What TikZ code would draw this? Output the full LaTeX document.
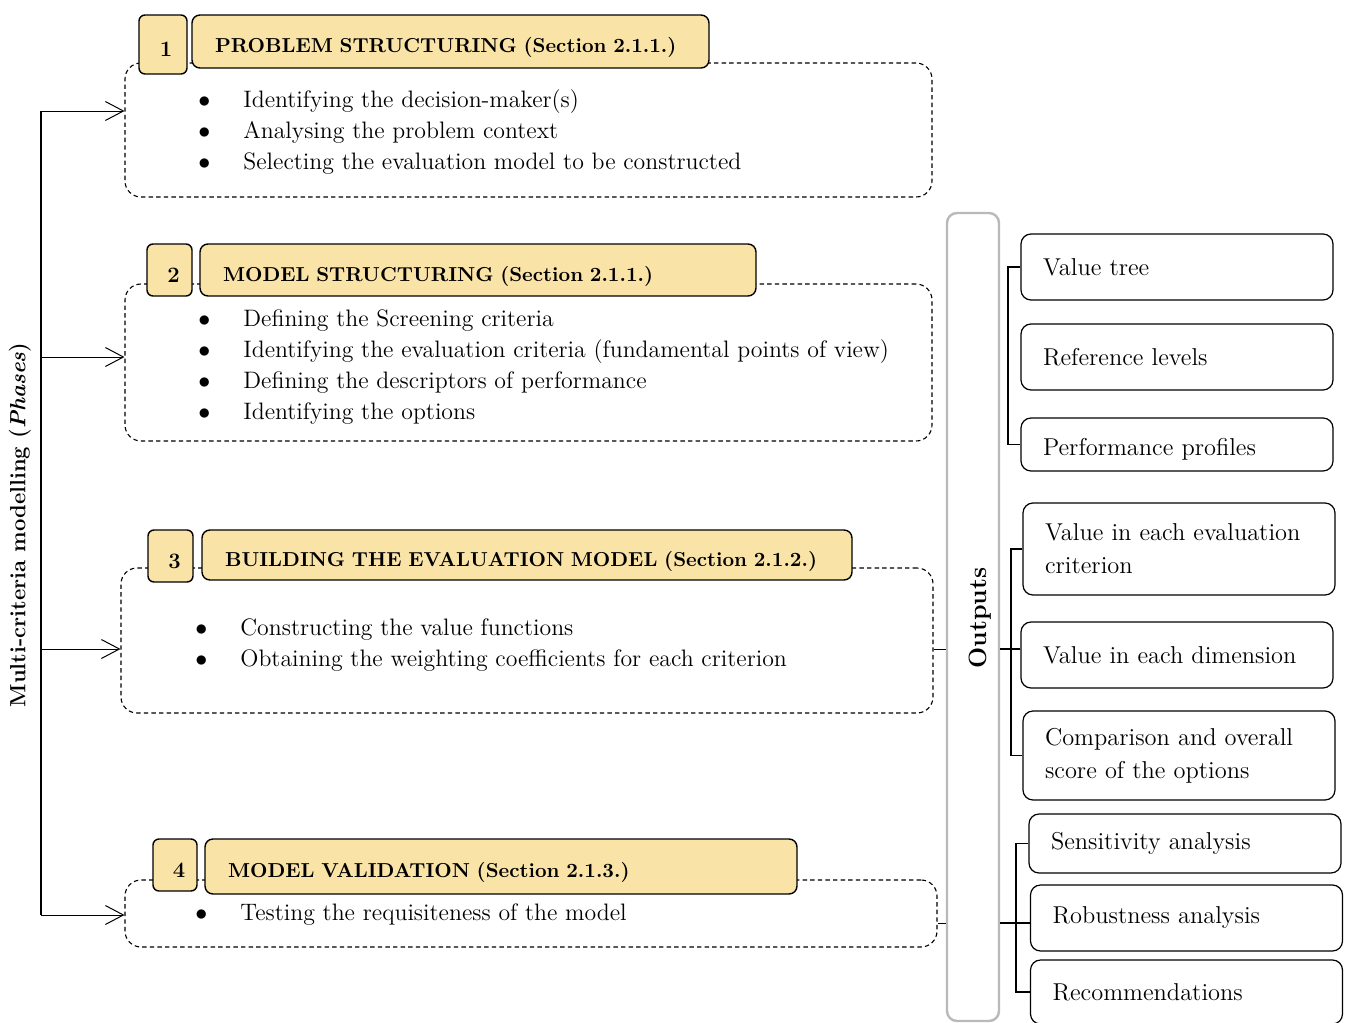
\documentclass[tikz,border=0pt]{standalone}
\usepackage{tikz}
\usetikzlibrary{arrows.meta}

\definecolor{titlefill}{RGB}{250,227,167}
\definecolor{outgray}{RGB}{185,185,185}

\tikzset{
  phasebox/.style={draw, dashed, dash pattern=on 2.2pt off 1.6pt, line width=0.55pt, rounded corners=8pt},
  numbox/.style={draw, fill=titlefill, line width=0.7pt, rounded corners=3pt, text height=12pt, text depth=0pt,
    font=\fontsize{11}{12}\selectfont\bfseries},
  titlebox/.style={draw, fill=titlefill, line width=0.7pt, rounded corners=4pt, align=left, inner xsep=11.5pt,
    text height=11pt, text depth=0pt, font=\fontsize{10.1}{12}\selectfont\bfseries},
  itemlist/.style={align=left, inner sep=0pt, anchor=north west, font=\fontsize{11.9}{15.5}\selectfont},
  outbox/.style={draw, line width=0.6pt, rounded corners=5pt, align=left, minimum width=156pt,
    font=\fontsize{12.2}{16.5}\selectfont},
}
\newcommand{\itm}[1]{\makebox[22.5pt][l]{$\bullet$}#1}

\begin{document}
\begin{tikzpicture}[x=0.5pt, y=-0.5pt]
\useasboundingbox (0,0) rectangle (1345,1023);

% Phasen (gestrichelte Kaesten)
\node[phasebox, minimum width=403.5pt, minimum height=67pt] (p1) at (528.5,130) {};
\node[phasebox, minimum width=403.5pt, minimum height=78.5pt] (p2) at (528.5,362.5) {};
\node[phasebox, minimum width=406pt, minimum height=72.5pt] (p3) at (527,640.5) {};
\node[phasebox, minimum width=406pt, minimum height=33.5pt] (p4) at (531,913.5) {};

% Nummern
\node[numbox, minimum width=24pt, minimum height=29.5pt] (n1) at (163,44.5) {\hspace*{3pt}1};
\node[numbox, minimum width=22.5pt, minimum height=26pt] (n2) at (169.5,270) {\hspace*{4pt}2};
\node[numbox, minimum width=22.5pt, minimum height=26pt] (n3) at (170.5,556) {\hspace*{4pt}3};
\node[numbox, minimum width=22pt, minimum height=26pt] (n4) at (175,865) {\hspace*{4pt}4};

% Titel
\node[titlebox, minimum width=258.5pt, minimum height=26.5pt, text width=235.5pt] (t1) at (450.5,41.5) {PROBLEM STRUCTURING (Section 2.1.1.)};
\node[titlebox, minimum width=278pt, minimum height=26pt, text width=255pt] (t2) at (478,270) {MODEL STRUCTURING (Section 2.1.1.)};
\node[titlebox, minimum width=325pt, minimum height=25pt, text width=302pt] (t3) at (527,555) {BUILDING THE EVALUATION MODEL (Section 2.1.2.)};
\node[titlebox, minimum width=296pt, minimum height=27.5pt, text width=273pt] (t4) at (501,866.5) {MODEL VALIDATION (Section 2.1.3.)};

% Aufzaehlungen
\node[itemlist] (l1) at (198,89) {\itm{Identifying the decision-maker(s)}\\
  \itm{Analysing the problem context}\\
  \itm{Selecting the evaluation model to be constructed}};
\node[itemlist] (l2) at (198,309) {\itm{Defining the Screening criteria}\\
  \itm{Identifying the evaluation criteria (fundamental points of view)}\\
  \itm{Defining the descriptors of performance}\\
  \itm{Identifying the options}};
\node[itemlist] (l3) at (195,618) {\itm{Constructing the value functions}\\
  \itm{Obtaining the weighting coefficients for each criterion}};
\node[itemlist] (l4) at (195,903) {\itm{Testing the requisiteness of the model}};

% Linke Achse
\node[rotate=90, font=\fontsize{11}{12}\selectfont\bfseries] (lab) at (20,525) {Multi-criteria modelling (\textit{Phases})};
\coordinate (s1) at (41,111);
\coordinate (s2) at (41,357);
\coordinate (s3) at (41,649);
\coordinate (s4) at (41,915);
\draw[line width=0.65pt] (s1) -- (s4);
\foreach \i in {1,...,4}
  \draw[line width=0.5pt, -{Straight Barb[length=9pt,width=9.5pt]}] (s\i) -- (s\i -| p\i.west);

% Outputs
\node[draw=outgray, line width=1.2pt, rounded corners=5pt, minimum width=26pt, minimum height=404pt,
  label={[rotate=90, font=\fontsize{12.5}{14}\selectfont\bfseries, xshift=-0.5pt, yshift=-3.5pt]center:Outputs}] (outs) at (973,617) {};

\node[outbox, minimum height=33pt, text width=134pt] (o1) at (1177,267) {Value tree};
\node[outbox, minimum height=33pt, text width=134pt] (o2) at (1177,357) {Reference levels};
\node[outbox, minimum height=26.5pt, text width=134pt] (o3) at (1177,444.5) {\raisebox{-5.5pt}[0pt][0pt]{Performance profiles}};
\node[outbox, minimum height=46pt, text width=134pt] (o4) at (1179,549) {Value in each evaluation\\criterion};
\node[outbox, minimum height=33pt, text width=134pt] (o5) at (1177,655) {Value in each dimension};
\node[outbox, minimum height=44.5pt, text width=134pt] (o6) at (1179,755.5) {Comparison and overall\\score of the options};
\node[outbox, minimum height=29.5pt, text width=134pt] (o7) at (1185,843.5) {Sensitivity analysis};
\node[outbox, minimum height=33pt, text width=134pt] (o8) at (1186.5,918) {Robustness analysis};
\node[outbox, minimum height=32pt, text width=134pt] (o9) at (1186.5,992) {Recommendations};

% Klammern
\coordinate (b1) at (1008,357);
\coordinate (m2) at (1011,649);
\coordinate (m3) at (1016,923);
\draw[line width=0.6pt] (o1.west) -| (b1) |- (o3.west);
\draw[line width=0.6pt] (o4.west) -| (m2) |- (o6.west);
\draw[line width=0.6pt] (o7.west) -| (m3) |- (o9.west);
\draw[line width=0.6pt] (m2 -| outs.east) -- (m2 -| o5.west);
\draw[line width=0.6pt] (m3 -| outs.east) -- (m3 -| o8.west);
\draw[line width=0.5pt] (p3.east |- m2) -- (m2 -| outs.west);
\draw[line width=0.5pt] (p4.east |- m3) -- (m3 -| outs.west);

\end{tikzpicture}
\end{document}
